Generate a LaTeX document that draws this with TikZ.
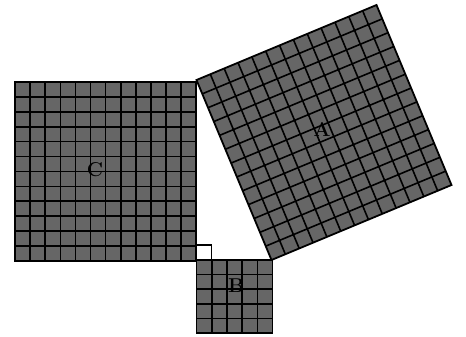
\documentclass[tikz,border=0pt]{standalone}
\begin{document}
\begin{tikzpicture}[x=1pt,y=-1pt,
  sqfill/.style={fill=black!60},
  gridline/.style={draw=black,line width=1.6pt},
  edgeline/.style={draw=black,line width=1.8pt,line join=miter},
  lbl/.style={font=\fontsize{20}{20}\selectfont\bfseries,text=black,inner sep=0pt}]
\useasboundingbox (0,0) rectangle (466,337);
% triangle vertices
\coordinate (Rv) at (196.5,260);
\coordinate (Tv) at (196.5,80);
\coordinate (Bv) at (271.5,260);
% square C (12 x 12)
\begin{scope}[shift={(15,82)},x=15.1pt,y=-14.9pt]
  \fill[sqfill] (0,0) rectangle (12,12);
  \foreach \i in {1,...,11} {
    \draw[gridline] (\i,0) -- (\i,12);
    \draw[gridline] (0,\i) -- (12,\i);
  }
  \draw[edgeline] (0,0) rectangle (12,12);
\end{scope}
% square B (5 x 5)
\begin{scope}[shift={(Rv)},x=15.2pt,y=-14.6pt]
  \fill[sqfill] (0,0) rectangle (5,5);
  \foreach \i in {1,...,4} {
    \draw[gridline] (\i,0) -- (\i,5);
    \draw[gridline] (0,\i) -- (5,\i);
  }
  \draw[edgeline] (0,0) rectangle (5,5);
\end{scope}
% square A (13 x 13) on the hypotenuse
\begin{scope}[shift={(Bv)},x={(-5.769pt,13.846pt)},y={(13.846pt,5.769pt)}]
  \fill[sqfill] (0,0) -- (13,0) -- (13,13) -- (0,13) -- cycle;
  \foreach \i in {1,...,12} {
    \draw[gridline] (\i,0) -- (\i,13);
    \draw[gridline] (0,\i) -- (13,\i);
  }
  \draw[edgeline] (0,0) -- (13,0) -- (13,13) -- (0,13) -- cycle;
\end{scope}
% right angle marker
\draw[black,line width=1.2pt,fill=white] (Rv) rectangle ++(15,-15);
% labels
\node[lbl] (labC) at (95,170) {C};
\node[lbl] (labB) at (236,286) {B};
\node[lbl] (labA) at (322,129) {A};
\end{tikzpicture}
\end{document}
